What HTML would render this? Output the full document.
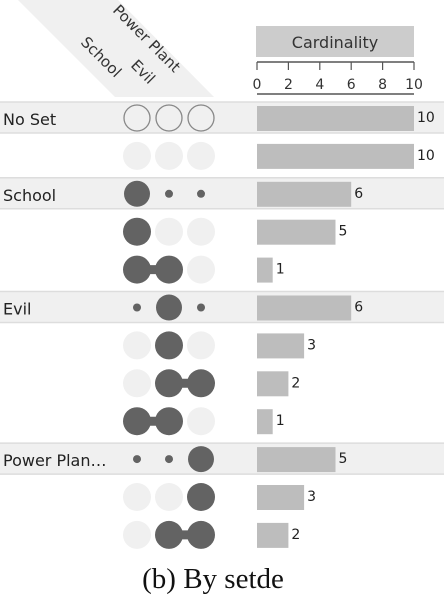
<!DOCTYPE html>
<html><head><meta charset="utf-8"><style>
body{margin:0;background:#fff;width:444px;height:602px;overflow:hidden}
svg{display:block;font-family:"DejaVu Sans","Liberation Sans",sans-serif}
</style></head><body>
<svg id="c" width="444" height="602">
<polygon points="18,0 118,0 214,97 115,97" fill="#f0f0f0"/>
<text transform="translate(80,43) rotate(45)" font-size="15" fill="#333">School</text>
<text transform="translate(130,66) rotate(45)" font-size="15" fill="#333">Evil</text>
<text transform="translate(112,11) rotate(45)" font-size="15" fill="#333">Power Plant</text>
<rect x="256" y="26" width="158" height="31" fill="#cccccc"/>
<text x="335" y="48" font-size="16" text-anchor="middle" fill="#333">Cardinality</text>
<g id="axis"></g>
<g id="rows"></g>
<text x="213" y="588" font-size="29" text-anchor="middle" font-family="Liberation Serif,serif" fill="#111">(b)  By setde</text>
</svg>
<script>
const rowLabels=["No Set","","School","","","Evil","","","","Power Plan\u2026","",""];
const rowGroup=[1,0,1,0,0,1,0,0,0,1,0,0];
const rowSets=[[-1,-1,-1],[0,0,0],[2,1,1],[1,0,0],[1,1,0],[1,2,1],[0,1,0],[0,1,1],[1,1,0],[1,1,2],[0,0,1],[0,1,1]];
const rowValues=[10,10,6,5,1,6,3,2,1,5,3,2];
const ticks=[0,2,4,6,8,10];
const NS="http://www.w3.org/2000/svg";
const x0=257,x1=414,maxV=10;
const xs=v=>x0+(x1-x0)*v/maxV;
const ys=i=>118+i*37.9;
const colX=[137,169,201];
function mk(t,a,p){const e=document.createElementNS(NS,t);for(const k in a)e.setAttribute(k,a[k]);p.appendChild(e);return e;}
const ax=document.getElementById('axis');
mk('line',{x1:xs(0),x2:xs(maxV),y1:94,y2:94,stroke:'#555','stroke-width':1.5},ax);
mk('line',{x1:xs(0),x2:xs(maxV),y1:62,y2:62,stroke:'#555','stroke-width':1.5},ax);
ticks.forEach(t=>{
 const l=mk('line',{x1:xs(t),x2:xs(t),y1:62,y2:70,stroke:'#555','stroke-width':1.2},ax);
 
 
 const tx=mk('text',{x:xs(t),y:89,'font-size':14,'text-anchor':'middle',fill:'#333'},ax);
 tx.textContent=t;
 
 
});
const rg=document.getElementById('rows');
rowValues.forEach((v,i)=>{
 const y=ys(i);
 const g=mk('g',{},rg);
 
 
 if(rowGroup[i]){
  mk('rect',{x:0,y:y-16,width:444,height:31,fill:'#f0f0f0'},g);
  mk('line',{x1:0,x2:444,y1:y-16,y2:y-16,stroke:'#ddd','stroke-width':1.5},g);
  mk('line',{x1:0,x2:444,y1:y+15,y2:y+15,stroke:'#ddd','stroke-width':1.5},g);
 }
 if(rowLabels[i]){const t=mk('text',{x:3,y:y+7,'font-size':16,fill:'#222'},g);t.textContent=rowLabels[i];
  
  }
 const s=rowSets[i];
 const dark=s.map((d,j)=>d===1&&!rowGroup[i]?j:-1).filter(j=>j>=0);
 if(dark.length>1) mk('line',{x1:colX[dark[0]],x2:colX[dark[dark.length-1]],y1:y,y2:y,stroke:'#636363','stroke-width':9},g);
 s.forEach((d,j)=>{
  let a;
  if(d===-1)a={r:13,fill:'none',stroke:'#888','stroke-width':1.3};
  else if(rowGroup[i])a=d===2?{r:13,fill:'#636363'}:{r:4,fill:'#636363'};
  else a=d===1?{r:14,fill:'#636363'}:{r:14,fill:'#f0f0f0'};
  a.cx=colX[j];a.cy=y;
  const c=mk('circle',a,g);
  
  
 });
 const b=mk('rect',{x:xs(0),y:y-12,width:xs(v)-xs(0),height:25,fill:'#bdbdbd'},g);
 
 
 const vt=mk('text',{x:xs(v)+3,y:y+4,'font-size':14,fill:'#222'},g);
 vt.textContent=v;
 
 
});
</script>
</body></html>
